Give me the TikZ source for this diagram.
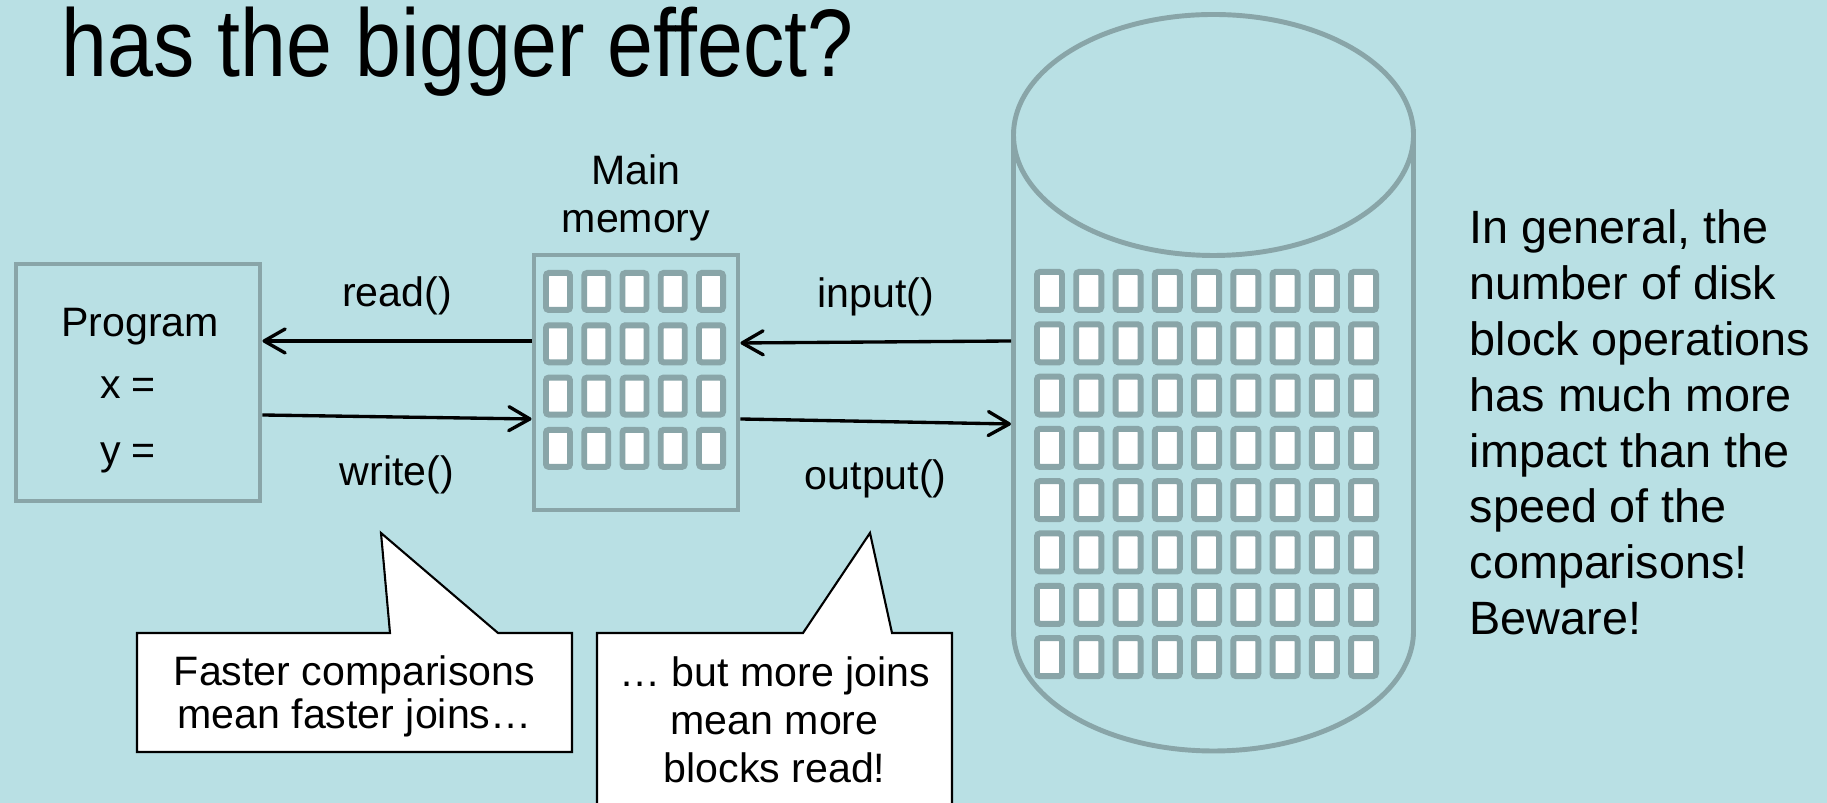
\documentclass[tikz,border=0pt]{standalone}
\usepackage{fontspec}
\setmainfont{Liberation Sans}
\newfontfamily\titlefont[FakeStretch=0.86]{Liberation Sans}
\usetikzlibrary{arrows.meta,positioning}
\definecolor{slidebg}{RGB}{185,224,228}
\definecolor{frameteal}{RGB}{137,165,168}
\tikzset{
  frame/.style={draw=frameteal, line width=1.4pt},
  blk/.style={draw=frameteal, fill=white, line width=1.7pt, rounded corners=0.8pt},
  flow/.style={line width=0.95pt, -{Straight Barb[length=2.1mm,width=2.4mm,round]}},
  lbl/.style={font=\fontsize{11.7}{13.6}\selectfont, inner sep=0pt},
  callout/.style={draw=black, fill=white, line width=0.6pt},
}

\begin{document}
\begin{tikzpicture}
\fill[slidebg] (0,0) rectangle (18.27,8.03);
\useasboundingbox (0,0) rectangle (18.27,8.03);

\node[anchor=base west, inner sep=0pt, font=\titlefont\fontsize{27.3}{30}\selectfont] (title) at (0.61,7.26) {has the bigger effect?};

% program and main memory
\node[frame, minimum width=2.44cm, minimum height=2.37cm] (prog) at (1.38,4.205) {};
\node[lbl, anchor=base] (pname) at (1.40,4.66) {Program};
\node[lbl, anchor=base] (px) at (1.28,4.04) {x =};
\node[lbl, anchor=base] (py) at (1.28,3.38) {y =};

\node[frame, minimum width=2.04cm, minimum height=2.55cm] (mem) at (6.36,4.205) {};
\node[lbl, align=center, above=1.1mm of mem] (memlbl) {Main\\memory};
\foreach \i in {0,...,4}
  \foreach \j in {0,...,3}
    \draw[blk] ({5.46+0.3825*\i},{4.93-0.523*\j}) rectangle ++(0.24,0.37);

% disk
\draw[frame] (10.135,6.68) -- (10.135,1.72) arc[start angle=180, end angle=360, x radius=2, y radius=1.2] -- (14.135,6.68);
\draw[frame] (12.135,6.68) ellipse [x radius=2, y radius=1.205];
\foreach \i in {0,...,8}
  \foreach \j in {0,...,7}
    \draw[blk] ({10.37+0.3925*\i},{4.93-0.523*\j}) rectangle ++(0.25,0.38);
\coordinate (diskin) at (10.11,4.62);
\coordinate (diskout) at (10.11,3.79);

% transfers
\draw[flow] ([yshift=4.15mm]mem.west) -- ([yshift=4.15mm]prog.east) node[midway, above=2.4mm, lbl] {read()};
\draw[flow] ([yshift=-3.25mm]prog.east) -- ([yshift=-3.65mm]mem.west) node[midway, below=3.7mm, lbl] {write()};
\draw[flow] (diskin) -- ([yshift=3.95mm]mem.east) node[midway, above=2.4mm, lbl] {input()};
\draw[flow] ([yshift=-3.65mm]mem.east) -- (diskout) node[midway, below=3.7mm, lbl] {output()};

% callouts
\filldraw[callout] (1.37,1.70) -- (3.90,1.70) -- (3.81,2.70) -- (4.98,1.70) -- (5.72,1.70) -- (5.72,0.51) -- (1.37,0.51) -- cycle;
\node[lbl, align=center, font=\fontsize{11.7}{12.2}\selectfont] (faster) at (3.545,1.07) {Faster comparisons\\mean faster joins…};
\filldraw[callout] (5.97,1.70) -- (8.03,1.70) -- (8.70,2.70) -- (8.92,1.70) -- (9.52,1.70) -- (9.52,-0.2) -- (5.97,-0.2) -- cycle;
\node[lbl, align=center] (morejoins) at (7.745,0.83) {… but more joins\\mean more\\blocks read!};

\node[anchor=north west, inner sep=0pt, align=left, font=\fontsize{13.3}{15.9}\selectfont] (note) at (14.69,5.94) {In general, the\\number of disk\\block operations\\has much more\\impact than the\\speed of the\\comparisons!\\Beware!};
\end{tikzpicture}
\end{document}
